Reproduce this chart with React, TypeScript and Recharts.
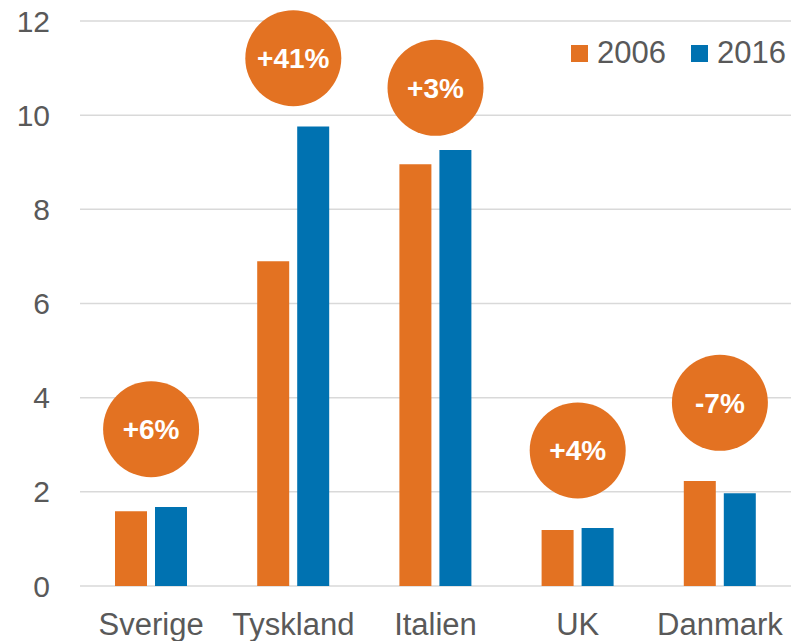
import { ComposedChart, Bar, Scatter, XAxis, YAxis, CartesianGrid, Legend } from 'recharts';

const categories = ['Sverige', 'Tyskland', 'Italien', 'UK', 'Danmark'];
const values2006 = [1.59, 6.9, 8.96, 1.19, 2.23];
const values2016 = [1.68, 9.76, 9.26, 1.23, 1.97];
const changeLabels = ['+6%', '+41%', '+3%', '+4%', '-7%'];
const bubbleY = [3.33, 11.21, 10.58, 2.88, 3.89];
const yTicks = [0, 2, 4, 6, 8, 10, 12];

const ORANGE = '#E37222';
const BLUE = '#0072B1';
const TEXT = '#595959';
const FONT = '"Liberation Sans", Arial, sans-serif';

const data = categories.map((name, i) => ({
  name,
  y2006: values2006[i],
  y2016: values2016[i],
  bubble: bubbleY[i],
  change: changeLabels[i],
}));

function Bubble(props: any) {
  const { cx, cy, payload } = props;
  if (cx == null || cy == null) return null;
  return (
    <g>
      <circle cx={cx} cy={cy} r={48} fill={ORANGE} />
      <text
        x={cx}
        y={cy}
        dy="0.36em"
        textAnchor="middle"
        fill="#fff"
        fontWeight="bold"
        fontSize={28}
        fontFamily={FONT}
      >
        {payload.change}
      </text>
    </g>
  );
}

function LegendContent() {
  const items = [
    { label: '2006', color: ORANGE },
    { label: '2016', color: BLUE },
  ];
  return (
    <div style={{ display: 'flex', alignItems: 'center', fontFamily: FONT, fontSize: 31, color: TEXT }}>
      {items.map((it, i) => (
        <div key={it.label} style={{ display: 'flex', alignItems: 'center', marginLeft: i === 0 ? 0 : 25 }}>
          <div style={{ width: 17, height: 17, background: it.color, marginRight: 9 }} />
          <span style={{ lineHeight: '34px' }}>{it.label}</span>
        </div>
      ))}
    </div>
  );
}

export default function App() {
  return (
    <div style={{ position: 'absolute', left: 0, top: 0, background: '#fff' }}>
      <ComposedChart
        width={798}
        height={641}
        data={data}
        margin={{ top: 21, right: 7, bottom: 0, left: 0 }}
        barSize={32}
        barGap={8}
      >
        <CartesianGrid vertical={false} stroke="#D9D9D9" strokeWidth={1.5} />
        <XAxis
          dataKey="name"
          height={55}
          axisLine={false}
          tickLine={false}
          tickSize={0}
          tickMargin={27}
          interval={0}
          tick={{ fontSize: 31, fill: TEXT, fontFamily: FONT }}
        />
        <YAxis
          width={80}
          domain={[0, 12]}
          ticks={yTicks}
          axisLine={false}
          tickLine={false}
          tickSize={0}
          tickMargin={30}
          tick={{ fontSize: 30, fill: TEXT, fontFamily: FONT }}
        />
        <Legend
          layout="horizontal"
          verticalAlign="middle"
          align="center"
          content={<LegendContent />}
          wrapperStyle={{ top: 36, left: 571, width: 230, height: 34 }}
        />
        <Bar dataKey="y2006" name="2006" fill={ORANGE} isAnimationActive={false} />
        <Bar dataKey="y2016" name="2016" fill={BLUE} isAnimationActive={false} />
        <Scatter dataKey="bubble" shape={<Bubble />} isAnimationActive={false} legendType="none" />
      </ComposedChart>
    </div>
  );
}
